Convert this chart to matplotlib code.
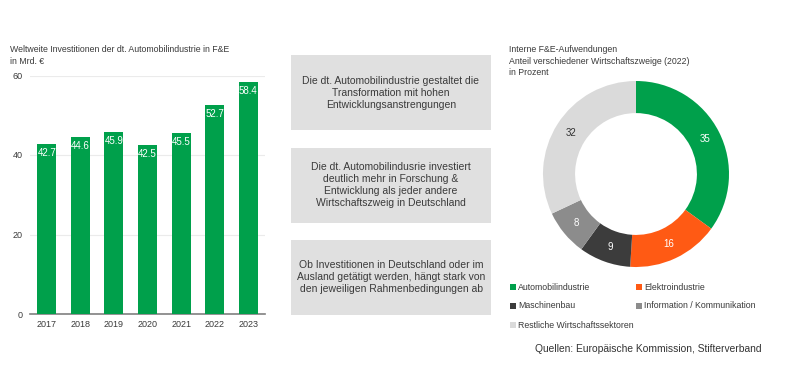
import matplotlib
matplotlib.use("Agg")
import matplotlib.pyplot as plt
from matplotlib.patches import Rectangle
import numpy as np

plt.rcParams['font.family'] = ['Liberation Sans', 'DejaVu Sans']

# ---- data ----
years = ["2017", "2018", "2019", "2020", "2021", "2022", "2023"]
invest = [42.7, 44.6, 45.9, 42.5, 45.5, 52.7, 58.4]
yticks = [0, 20, 40, 60]

sectors = ["Automobilindustrie", "Elektroindustrie", "Maschinenbau",
           "Information / Kommunikation", "Restliche Wirtschaftssektoren"]
shares = [35, 16, 9, 8, 32]
sector_colors = ["#00A04B", "#FF5A14", "#3C3C3C", "#8C8C8C", "#DADADA"]
label_colors = ["white", "white", "white", "white", "#333333"]

box_texts = [
    "Die dt. Automobilindustrie gestaltet die\nTransformation mit hohen\nEntwicklungsanstrengungen",
    "Die dt. Automobilindusrie investiert\ndeutlich mehr in Forschung &\nEntwicklung als jeder andere\nWirtschaftszweig in Deutschland",
    "Ob Investitionen in Deutschland oder im\nAusland getätigt werden, hängt stark von\nden jeweiligen Rahmenbedingungen ab",
]

W, H = 800, 377
fig = plt.figure(figsize=(W / 100, H / 100), dpi=100)
fig.patch.set_facecolor("white")
TXT = "#3A3A3A"

def fx(px):
    return px / W

def fy(py):
    return 1 - py / H

# ---- bar chart ----
ax = fig.add_axes([fx(30), fy(314), fx(265) - fx(30), fy(75.5) - fy(314)])
x = list(range(len(years)))
ax.bar(x, invest, width=0.57, color="#00A04B", zorder=3)
for xi, v in zip(x, invest):
    ax.text(xi, v - 2.3, f"{v:.1f}", ha="center", va="center", color="white",
            fontsize=7)
ax.set_xlim(-0.5, 6.5)
ax.set_ylim(0, 60)
ax.set_xticks(x)
ax.set_xticklabels(years)
ax.set_yticks(yticks)
for s in ["top", "right", "left"]:
    ax.spines[s].set_visible(False)
ax.spines["bottom"].set_color("#808080")
ax.spines["bottom"].set_linewidth(1.2)
ax.tick_params(axis="both", length=0, labelsize=6.5, colors=TXT)
ax.tick_params(axis="y", pad=5.5)
ax.tick_params(axis="x", pad=4)
ax.yaxis.grid(True, color="#EBEBEB", linewidth=0.8, zorder=0)
ax.set_axisbelow(True)

fig.text(fx(10), fy(50), "Weltweite Investitionen der dt. Automobilindustrie in F&E",
         fontsize=6.3, color=TXT, va="center", ha="left")
fig.text(fx(10), fy(61.5), "in Mrd. €", fontsize=6.3, color=TXT, va="center", ha="left")

# ---- text boxes ----
boxes = [(55, 130), (148, 223), (240, 315)]
for (top, bot), t in zip(boxes, box_texts):
    fig.patches.append(Rectangle((fx(291), fy(bot)), fx(491) - fx(291), fy(top) - fy(bot),
                                 transform=fig.transFigure, facecolor="#E0E0E0",
                                 edgecolor="none"))
    fig.text(fx(391), fy((top + bot) / 2), t, ha="center", va="center",
             fontsize=7.5, color=TXT, linespacing=1.25)

# ---- donut ----
ax2 = fig.add_axes([fx(543), fy(267), fx(729) - fx(543), fy(81) - fy(267)])
wedges, _ = ax2.pie(shares, colors=sector_colors, startangle=90, counterclock=False,
                    radius=1, wedgeprops=dict(width=0.345, edgecolor="none"))
for w, v, c in zip(wedges, shares, label_colors):
    ang = np.deg2rad((w.theta1 + w.theta2) / 2)
    r = 0.83
    ax2.text(r * np.cos(ang), r * np.sin(ang), str(v), ha="center", va="center",
             fontsize=7, color=c)
ax2.set_xlim(-1, 1)
ax2.set_ylim(-1, 1)
ax2.set_aspect("equal")
ax2.axis("off")

for i, line in enumerate(["Interne F&E-Aufwendungen",
                          "Anteil verschiedener Wirtschaftszweige (2022)",
                          "in Prozent"]):
    fig.text(fx(509), fy(50 + i * 11.2), line, fontsize=6.3, color=TXT, va="center", ha="left")

# ---- legend ----
leg_pos = [(513, 287), (639, 287), (513, 306), (639, 306), (513, 325)]
for (px, py), name, col in zip(leg_pos, sectors, sector_colors):
    fig.patches.append(Rectangle((fx(px - 3), fy(py + 3)), fx(6), 6 / H,
                                 transform=fig.transFigure, facecolor=col,
                                 edgecolor="none"))
    fig.text(fx(px + 5), fy(py), name, fontsize=6.3, color=TXT, va="center", ha="left")

fig.text(fx(648), fy(349), "Quellen: Europäische Kommission, Stifterverband",
         fontsize=7.4, color="#333333", ha="center", va="center")

fig.savefig("out.png", dpi=100, facecolor="white")
